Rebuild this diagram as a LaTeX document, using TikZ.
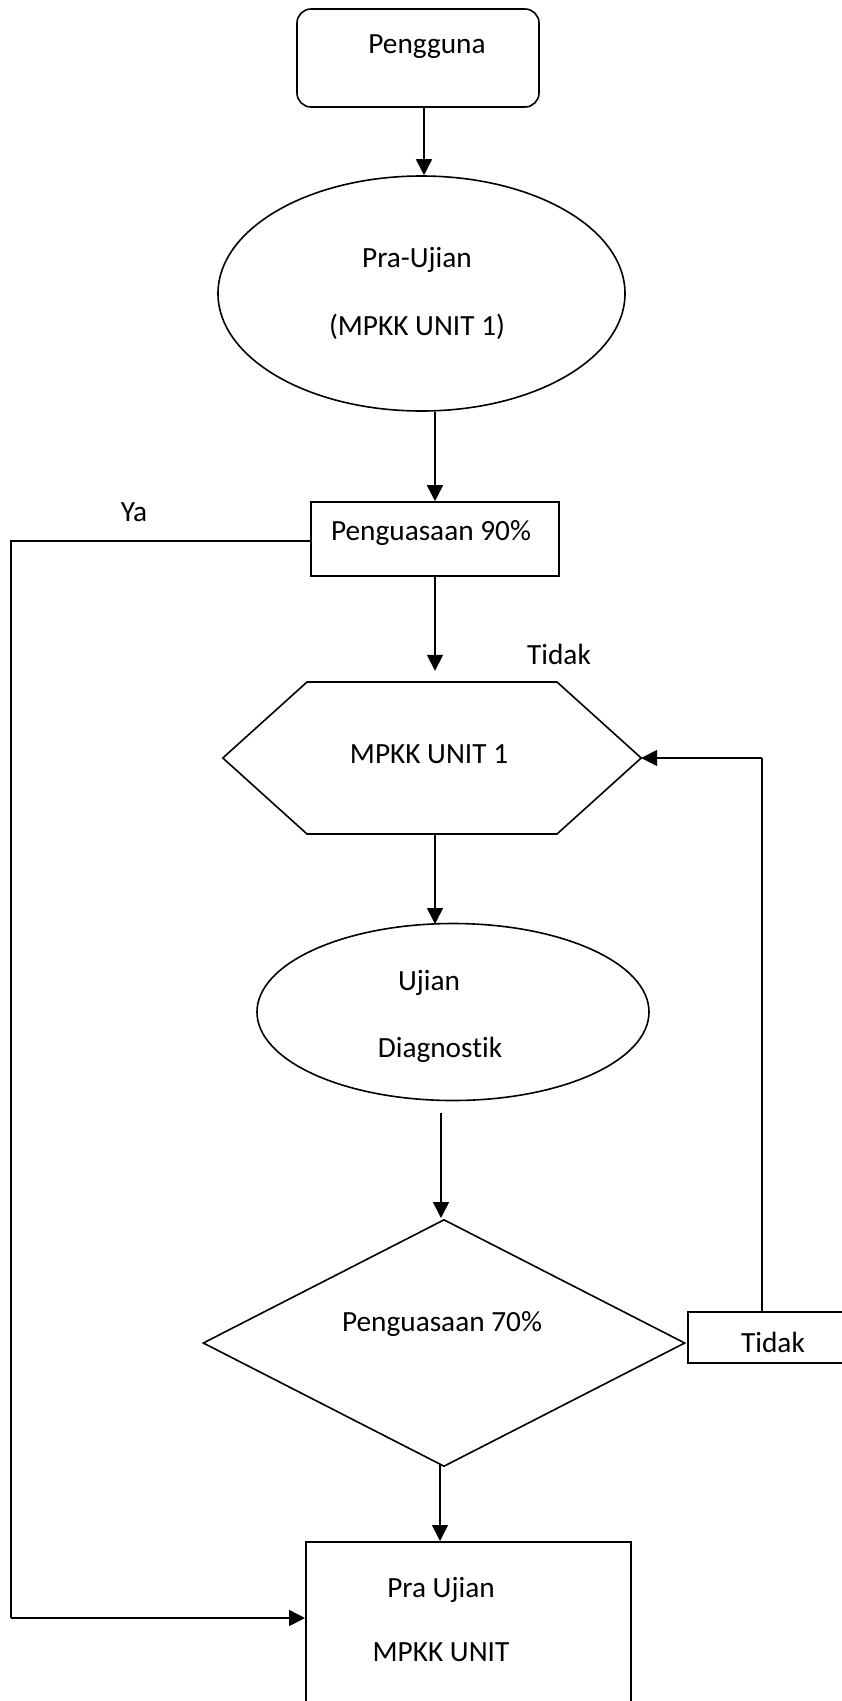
\documentclass[tikz,border=0pt]{standalone}
\usepackage{fontspec}
\setmainfont{Carlito}[Ligatures=NoCommon]
\usetikzlibrary{shapes.geometric,arrows.meta}
\begin{document}
\begin{tikzpicture}[x=1pt,y=-1pt,
  every node/.style={font=\fontsize{29.3}{67}\selectfont, inner sep=0pt},
  ln/.style={line width=1.6pt, draw=black},
  arr/.style={ln, -{Triangle[length=16pt,width=16pt]}},
  sbox/.style={draw, line width=1.6pt, rectangle},
  ell/.style={draw, line width=1.6pt, ellipse}]
\clip (0,0) rectangle (842,1701);
\fill[white] (0,0) rectangle (842,1701);
% nodes
\node[sbox, rounded corners=14pt, minimum width=242pt, minimum height=98pt,
  label={[xshift=9pt,yshift=11pt]center:Pengguna}] (user) at (418,58) {};
\node[ell, minimum width=407pt, minimum height=235pt, align=center] (pra) at (421.5,293.5) {};
\node at (417,260) (praA) {Pra-Ujian};
\node at (417,327) (praB) {(MPKK UNIT 1)};
\node[sbox, minimum width=248pt, minimum height=74pt,
  label={[xshift=-4pt,yshift=6pt]center:Penguasaan 90\%}] (p90) at (435,539) {};
\node[minimum width=418pt, minimum height=152pt,
  label={[xshift=-3pt,yshift=4pt]center:MPKK UNIT 1}] (hex) at (432,758) {};
\draw[line width=1.6pt, line join=miter] (hex.west) -- (307,682) -- (557,682) -- (hex.east) -- (557,834) -- (307,834) -- cycle;
\node[ell, minimum width=392pt, minimum height=177pt] (diag) at (453,1012) {};
\node (diagA) at (429,983) {Ujian};
\node (diagB) at (440,1050) {Diagnostik};
\node[draw, line width=1.6pt, diamond, aspect=2, minimum width=482pt, minimum height=247pt,
  label={[xshift=-2pt,yshift=19pt]center:Penguasaan 70\%}] (d70) at (444,1343) {};
\node[sbox, minimum width=172pt, minimum height=51pt] (tidak2) at (774,1337.5) {};
\node (tidak2t) at (773,1342) {Tidak};
\node[sbox, minimum width=325pt, minimum height=200pt, anchor=north west] (final) at (305,1541) {};
\node (finA) at (441,1590) {Pra Ujian};
\node (finB) at (441,1652) {MPKK UNIT};
\node (ya) at (134,512) {Ya};
\node (tidak1) at (559,654) {Tidak};
% coordinates
\coordinate (c1) at (11,541);
\coordinate (c2) at (11,1618);
\coordinate (c3) at (762,758);
% connectors
\draw[arr] ([xshift=6pt]user.south) -- ([xshift=6pt]user.south |- pra.north);
\draw[arr] (p90.north |- pra.south) -- (p90.north);
\draw[arr, shorten >=11pt] (p90.south) -- (p90.south |- hex.north);
\draw[arr] (435,834) -- (435,924);
\draw[arr] (441,1113) -- (441,1218);
\draw[arr] (440,1465) -- (440,1541);
\draw[ln] (tidak2.north -| c3) -- (c3);
\draw[arr] (c3) -- (hex.east);
\draw[ln] (p90.west |- c1) -- (c1) -- (c2);
\draw[arr] (c2) -- (c2 -| final.west);
\end{tikzpicture}
\end{document}
